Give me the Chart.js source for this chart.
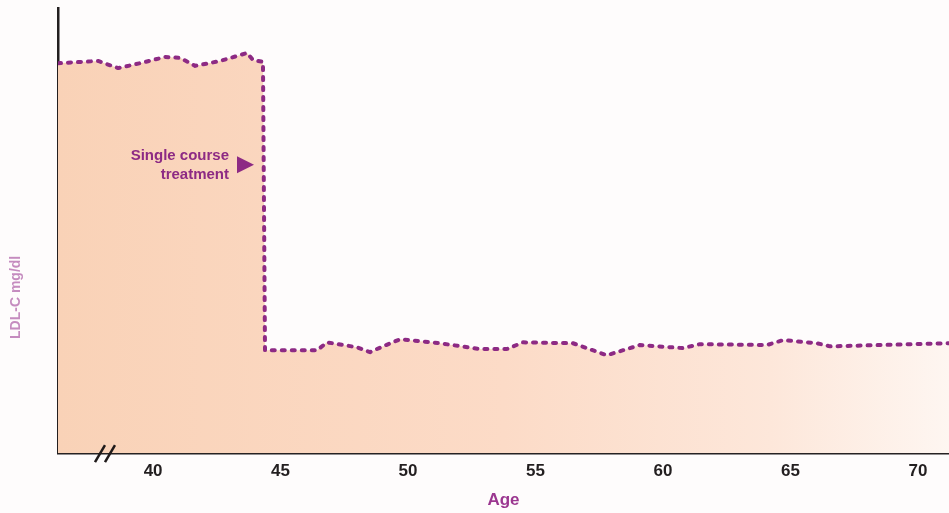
<!DOCTYPE html>
<html>
<head>
<meta charset="utf-8">
<script src="https://cdn.jsdelivr.net/npm/chart.js@4"></script>
<style>
html,body{margin:0;padding:0;background:#fefcfc;}
#wrap{width:949px;height:513px;position:relative;}
</style>
</head>
<body>
<div id="wrap"><canvas id="c" width="949" height="513"></canvas></div>
<script>
// Age (years) of each point on the LDL-C trace
const ages = [36.27, 37.84, 38.63, 39.49, 40.47, 41.06, 41.65, 42.63, 43.69, 43.92, 44.31, 44.39,
  44.47, 45.37, 46.43, 46.82, 48.0, 48.51, 49.02, 49.69, 51.25, 52.82, 53.88, 54.51, 56.47,
  57.80, 59.10, 60.78, 61.45, 64.08, 64.71, 66.04, 66.55, 71.22];
// LDL-C level (arbitrary units, no scale shown)
const ldl = [87.6, 88.1, 86.5, 87.6, 89.0, 88.8, 87.0, 88.1, 89.9, 88.3, 87.9, 23.1,
  23.1, 23.1, 23.1, 24.9, 23.8, 22.7, 24.0, 25.6, 24.7, 23.4, 23.4, 24.9, 24.7,
  22.0, 24.3, 23.6, 24.5, 24.3, 25.4, 24.7, 24.0, 24.7];
const tickAges = [40, 45, 50, 55, 60, 65, 70];
const xTitle = 'Age';
const yTitle = 'LDL-C mg/dl';
const annotationLines = ['Single course', 'treatment'];

const purple = '#8d2a84';

const extras = {
  id: 'extras',
  afterDraw(chart) {
    const ctx = chart.ctx;
    const a = chart.chartArea;
    const xs = chart.scales.x;
    const ys = chart.scales.y;
    ctx.save();
    // axis break marks
    ctx.strokeStyle = '#1f1a1a';
    ctx.lineWidth = 2.5;
    const bx = a.left + 42, by = a.bottom;
    [0, 10].forEach(d => {
      ctx.beginPath();
      ctx.moveTo(bx + d - 5, by + 9);
      ctx.lineTo(bx + d + 5, by - 8);
      ctx.stroke();
    });
    // annotation
    ctx.fillStyle = purple;
    ctx.font = 'bold 15px "Liberation Sans", Arial, sans-serif';
    ctx.textAlign = 'right';
    ctx.textBaseline = 'middle';
    const tx = xs.getPixelForValue(44.39) - 36;
    const ty = ys.getPixelForValue(66) + 5;
    ctx.fillText(annotationLines[0], tx, ty - 9);
    ctx.fillText(annotationLines[1], tx, ty + 10);
    ctx.beginPath();
    ctx.moveTo(tx + 8, ty - 8);
    ctx.lineTo(tx + 25, ty + 0.5);
    ctx.lineTo(tx + 8, ty + 9);
    ctx.closePath();
    ctx.fill();
    // y title
    ctx.fillStyle = '#c58cbf';
    ctx.font = 'bold 14px "Liberation Sans", Arial, sans-serif';
    ctx.textAlign = 'center';
    ctx.translate(16, ys.getPixelForValue(35));
    ctx.rotate(-Math.PI / 2);
    ctx.fillText(yTitle, 0, 0);
    ctx.restore();
  }
};

new Chart(document.getElementById('c'), {
  type: 'line',
  data: {
    datasets: [{
      data: ages.map((a, i) => ({ x: a, y: ldl[i] })),
      borderColor: purple,
      borderWidth: 4,
      borderDash: [3, 7],
      borderCapStyle: 'round',
      borderJoinStyle: 'round',
      pointRadius: 0,
      tension: 0,
      fill: 'origin',
      backgroundColor(ctx) {
        const ca = ctx.chart.chartArea;
        if (!ca) return '#fad5bb';
        const g = ctx.chart.ctx.createLinearGradient(ca.left, 0, ca.right, 0);
        g.addColorStop(0, '#f9d2b7');
        g.addColorStop(0.5, '#fcdbc7');
        g.addColorStop(0.8, '#fde7da');
        g.addColorStop(1, '#fef6f1');
        return g;
      }
    }]
  },
  options: {
    responsive: false,
    animation: false,
    events: [],
    layout: { padding: { left: 50, top: 8, right: 0, bottom: 2 } },
    plugins: { legend: { display: false }, tooltip: { enabled: false } },
    scales: {
      x: {
        type: 'linear',
        min: 36.27,
        max: 71.22,
        afterBuildTicks(scale) { scale.ticks = tickAges.map(v => ({ value: v })); },
        grid: { display: false },
        border: { display: true, color: '#231f20', width: 2.5 },
        ticks: {
          color: '#231f20',
          padding: 0,
          font: { size: 17, weight: 'bold', family: '"Liberation Sans", Arial, sans-serif' },
          maxRotation: 0
        },
        title: {
          display: true,
          text: xTitle,
          color: '#9b3790',
          font: { size: 17, weight: 'bold', family: '"Liberation Sans", Arial, sans-serif' },
          padding: { top: 9, bottom: 0 }
        }
      },
      y: {
        min: 0,
        max: 100,
        grid: { display: false },
        border: { display: true, color: '#231f20', width: 2.5 },
        ticks: { display: false }
      }
    }
  },
  plugins: [extras]
});
</script>
</body>
</html>
